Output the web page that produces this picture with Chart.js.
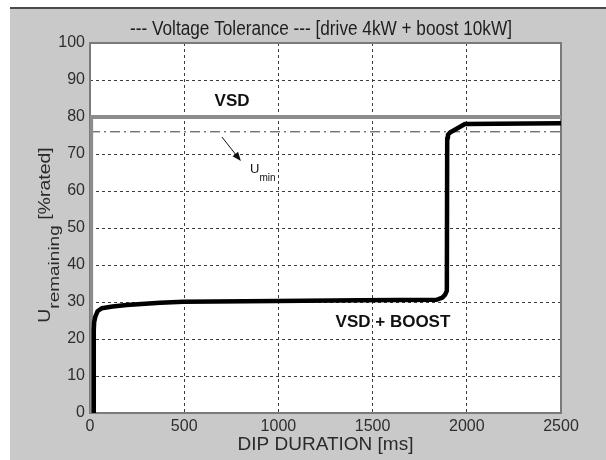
<!DOCTYPE html>
<html>
<head>
<meta charset="utf-8">
<script src="https://cdn.jsdelivr.net/npm/chart.js@4.4.1/dist/chart.umd.min.js"></script>
<style>
  html, body { margin: 0; padding: 0; background: #fff; }
  #wrap { width: 606px; height: 460px; }
</style>
</head>
<body>
<div id="wrap"><canvas id="tol" width="606" height="460"></canvas></div>
<script>
// axis ticks
const xTicks = [0, 500, 1000, 1500, 2000, 2500];
const yTicks = [0, 10, 20, 30, 40, 50, 60, 70, 80, 90, 100];

// drive alone (VSD)
const vsdX = [6, 6, 2500];
const vsdY = [0, 80, 80];

// drive + boost module
const boostX = [20, 20, 22, 28, 40, 62, 120, 195, 372, 495, 991, 1433, 1840, 1870, 1884, 1894, 1896, 1900, 1911, 1990, 2500];
const boostY = [0, 22.4, 24.5, 26.0, 27.5, 28.3, 28.8, 29.2, 29.8, 30.1, 30.3, 30.5, 30.6, 31.2, 31.9, 33, 74.3, 75.2, 75.8, 78.1, 78.3];

// minimum voltage limit
const uminX = [0, 2500];
const uminY = [76, 76];

const pts = (xs, ys) => xs.map((x, i) => ({ x: x, y: ys[i] }));

const NARROW = '"Liberation Sans Narrow", "Arial Narrow", "Liberation Sans", Arial, sans-serif';
const SANS = '"Liberation Sans", Arial, Helvetica, sans-serif';

function sText(ctx, str, x, y, font, sx, sy, align, baseline, color) {
  ctx.save();
  ctx.translate(x, y);
  ctx.scale(sx, sy);
  ctx.font = font;
  ctx.textAlign = align;
  ctx.textBaseline = baseline;
  ctx.fillStyle = color;
  ctx.fillText(str, 0, 0);
  ctx.restore();
}

const decor = {
  id: 'decor',
  beforeDraw(chart) {
    const ctx = chart.ctx, a = chart.chartArea;
    ctx.save();
    ctx.fillStyle = '#ffffff';
    ctx.fillRect(0, 0, chart.width, chart.height);
    ctx.fillStyle = '#c9c9c9';
    ctx.fillRect(10, 7, chart.width - 10, chart.height - 7);
    ctx.fillStyle = '#4a4a4a';
    ctx.fillRect(10, 7, chart.width - 10, 2);
    ctx.fillStyle = '#ffffff';
    ctx.fillRect(a.left, a.top, a.right - a.left, a.bottom - a.top);
    ctx.restore();
  },
  beforeDatasetsDraw(chart) {
    const ctx = chart.ctx, a = chart.chartArea;
    ctx.save();
    ctx.strokeStyle = '#7a7a7a';
    ctx.lineWidth = 2;
    ctx.strokeRect(a.left, a.top, a.right - a.left, a.bottom - a.top);
    ctx.restore();
  },
  afterDraw(chart) {
    const ctx = chart.ctx;
    const xs = chart.scales.x, ys = chart.scales.y;
    const px = v => xs.getPixelForValue(v), py = v => ys.getPixelForValue(v);

    // title
    sText(ctx, '--- Voltage Tolerance --- [drive 4kW + boost 10kW]', 321, 35,
      '20px ' + SANS, 0.86, 1, 'center', 'alphabetic', '#1e1e1e');

    // y axis label: U_remaining [%rated], rotated
    ctx.save();
    ctx.translate(50, 235);
    ctx.rotate(-Math.PI / 2);
    ctx.scale(1, 0.8);
    ctx.fillStyle = '#2a2a2a';
    ctx.textBaseline = 'alphabetic';
    ctx.textAlign = 'left';
    const fMain = '19.5px ' + SANS, fSub = '19px ' + SANS;
    ctx.font = fMain; const wU = ctx.measureText('U').width;
    ctx.font = fSub; const wR = ctx.measureText('remaining').width;
    ctx.font = fMain; const wB = ctx.measureText(' [%rated]').width;
    let tx = -(wU + wR + wB) / 2;
    ctx.font = fMain; ctx.fillText('U', tx, 0); tx += wU;
    ctx.font = fSub; ctx.fillText('remaining', tx, 11); tx += wR;
    ctx.font = fMain; ctx.fillText(' [%rated]', tx, 0);
    ctx.restore();

    // curve labels
    ctx.save();
    ctx.fillStyle = '#111';
    ctx.font = 'bold 17px ' + SANS;
    ctx.textAlign = 'center';
    ctx.textBaseline = 'middle';
    ctx.fillText('VSD', px(754), py(84.3));
    ctx.fillText('VSD + BOOST', px(1608), py(24.6));
    ctx.restore();

    // arrow pointing at the Umin line
    const x0 = px(700), y0 = py(74.6), x1 = px(801), y1 = py(68.1);
    const ang = Math.atan2(y1 - y0, x1 - x0);
    ctx.save();
    ctx.strokeStyle = '#111';
    ctx.fillStyle = '#111';
    ctx.lineWidth = 1;
    ctx.beginPath();
    ctx.moveTo(x0, y0);
    ctx.lineTo(x1 - 6 * Math.cos(ang), y1 - 6 * Math.sin(ang));
    ctx.stroke();
    ctx.beginPath();
    ctx.moveTo(x1, y1);
    ctx.lineTo(x1 - 9 * Math.cos(ang) + 3.5 * Math.sin(ang), y1 - 9 * Math.sin(ang) - 3.5 * Math.cos(ang));
    ctx.lineTo(x1 - 9 * Math.cos(ang) - 3.5 * Math.sin(ang), y1 - 9 * Math.sin(ang) + 3.5 * Math.cos(ang));
    ctx.closePath();
    ctx.fill();

    // U_min
    ctx.font = '13px ' + SANS;
    ctx.textAlign = 'left';
    ctx.textBaseline = 'middle';
    const ux = px(849), uy = py(65.9);
    ctx.fillText('U', ux, uy);
    ctx.font = '10px ' + SANS;
    ctx.fillText('min', ux + ctx.measureText('U').width * 1.25 + 0.5, uy + 9);
    ctx.restore();
  }
};

const edgeX = v => v === xTicks[0] || v === xTicks[xTicks.length - 1];
const edgeY = v => v === yTicks[0] || v === yTicks[yTicks.length - 1];

new Chart(document.getElementById('tol').getContext('2d'), {
  type: 'line',
  data: {
    datasets: [
      {
        label: 'VSD + BOOST',
        data: pts(boostX, boostY),
        borderColor: '#000000',
        borderWidth: 4.5,
        borderJoinStyle: 'round',
        pointRadius: 0,
        tension: 0,
        order: 0
      },
      {
        label: 'VSD',
        data: pts(vsdX, vsdY),
        borderColor: '#8c8c8c',
        borderWidth: 4,
        pointRadius: 0,
        tension: 0,
        order: 1
      },
      {
        label: 'Umin',
        data: pts(uminX, uminY),
        borderColor: '#3a3a3a',
        borderWidth: 1,
        borderDash: [10, 4, 2, 4],
        pointRadius: 0,
        tension: 0,
        order: 2
      }
    ]
  },
  options: {
    responsive: false,
    animation: false,
    devicePixelRatio: 1,
    layout: { padding: { left: 10, top: 43, right: 45, bottom: 0 } },
    plugins: {
      legend: { display: false },
      tooltip: { enabled: false },
      title: { display: false }
    },
    scales: {
      x: {
        type: 'linear',
        min: 0,
        max: 2500,
        afterBuildTicks: s => { s.ticks = xTicks.map(v => ({ value: v })); },
        afterFit: s => { s.height = 47; },
        ticks: {
          autoSkip: false,
          maxRotation: 0,
          padding: 4,
          color: '#2e2e2e',
          font: { family: NARROW, size: 16 },
          callback: v => String(v)
        },
        grid: {
          drawTicks: false,
          lineWidth: 1,
          color: c => (c.tick && edgeX(c.tick.value)) ? 'rgba(0,0,0,0)' : '#3c3c3c'
        },
        border: { display: false, dash: [3, 3] },
        title: {
          display: true,
          text: 'DIP DURATION [ms]',
          color: '#2a2a2a',
          font: { family: NARROW, size: 19 },
          padding: { top: 0, bottom: 4 }
        }
      },
      y: {
        type: 'linear',
        min: 0,
        max: 100,
        afterBuildTicks: s => { s.ticks = yTicks.map(v => ({ value: v })); },
        afterFit: s => { s.width = 80; },
        ticks: {
          autoSkip: false,
          padding: 5,
          color: '#2e2e2e',
          font: { family: NARROW, size: 16 },
          callback: v => String(v)
        },
        grid: {
          drawTicks: false,
          lineWidth: 1,
          color: c => (c.tick && edgeY(c.tick.value)) ? 'rgba(0,0,0,0)' : '#3c3c3c'
        },
        border: { display: false, dash: [3, 3] }
      }
    }
  },
  plugins: [decor]
});
</script>
</body>
</html>
